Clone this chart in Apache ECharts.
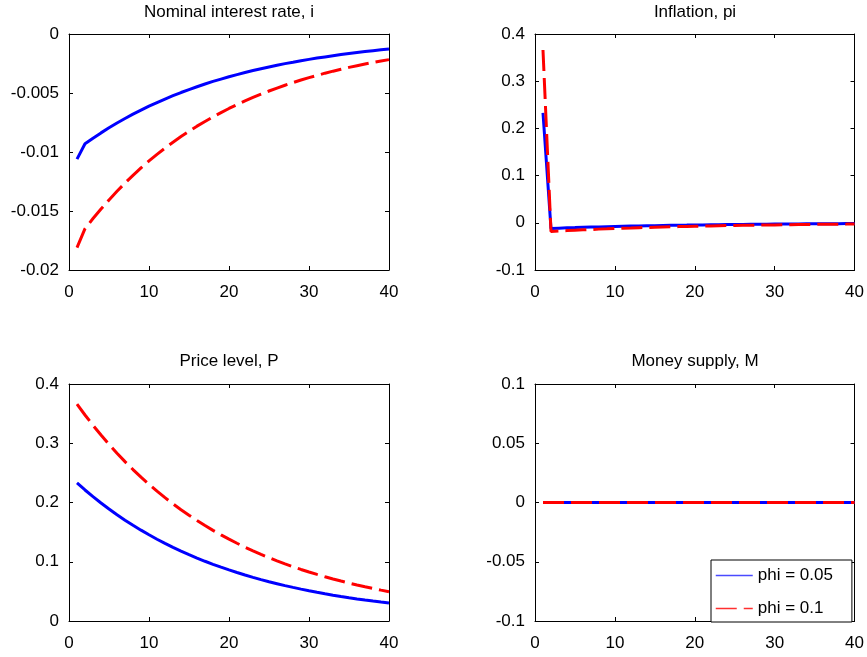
<!DOCTYPE html>
<html><head><meta charset="utf-8">
<script src="https://cdn.jsdelivr.net/npm/echarts@6/dist/echarts.min.js"></script>
<style>html,body{margin:0;padding:0;background:#fff}#c{width:867px;height:657px}</style>
</head><body><div id="c"></div>
<script>
const periods = [1,2,3,4,5,6,7,8,9,10,11,12,13,14,15,16,17,18,19,20,21,22,23,24,25,26,27,28,29,30,31,32,33,34,35,36,37,38,39,40];
const seriesNames = ['phi = 0.05', 'phi = 0.1'];
const seriesColors = ['#0000ff', '#ff0000'];
const legendColors = ['#4a4aff', '#ff3030'];
const panelTitles = ['Nominal interest rate, i', 'Inflation, pi', 'Price level, P', 'Money supply, M'];
const xTicks = [0, 10, 20, 30, 40];
const iTicks = [-0.02, -0.015, -0.01, -0.005, 0];
const piTicks = [-0.1, 0, 0.1, 0.2, 0.3, 0.4];
const pTicks = [0, 0.1, 0.2, 0.3, 0.4];
const mTicks = [-0.1, -0.05, 0, 0.05, 0.1];

// Nominal interest rate, i
const iLow = [-0.0106,-0.00930,-0.00883,-0.00838,-0.00795,-0.00754,-0.00716,-0.00679,-0.00645,-0.00612,-0.00581,-0.00551,-0.00523,-0.00496,-0.00471,-0.00447,-0.00424,-0.00402,-0.00382,-0.00362,-0.00344,-0.00326,-0.00310,-0.00294,-0.00279,-0.00265,-0.00251,-0.00239,-0.00226,-0.00215,-0.00204,-0.00194,-0.00184,-0.00174,-0.00165,-0.00157,-0.00149,-0.00141,-0.00134,-0.00127];
const iHigh = [-0.0181,-0.01650,-0.01564,-0.01483,-0.01406,-0.01333,-0.01263,-0.01198,-0.01135,-0.01076,-0.01020,-0.00967,-0.00917,-0.00869,-0.00824,-0.00781,-0.00741,-0.00702,-0.00666,-0.00631,-0.00598,-0.00567,-0.00538,-0.00510,-0.00483,-0.00458,-0.00434,-0.00412,-0.00390,-0.00370,-0.00351,-0.00332,-0.00315,-0.00299,-0.00283,-0.00269,-0.00255,-0.00241,-0.00229,-0.00217];
// Inflation, pi
const piLow = [0.233,-0.0119,-0.0113,-0.0107,-0.0102,-0.0096,-0.0091,-0.0087,-0.0082,-0.0078,-0.0074,-0.0070,-0.0067,-0.0063,-0.0060,-0.0057,-0.0054,-0.0051,-0.0049,-0.0046,-0.0044,-0.0042,-0.0040,-0.0038,-0.0036,-0.0034,-0.0032,-0.0031,-0.0029,-0.0027,-0.0026,-0.0025,-0.0023,-0.0022,-0.0021,-0.0020,-0.0019,-0.0018,-0.0017,-0.0016];
const piHigh = [0.366,-0.0183,-0.0174,-0.0165,-0.0157,-0.0149,-0.0142,-0.0134,-0.0128,-0.0121,-0.0115,-0.0110,-0.0104,-0.0099,-0.0094,-0.0089,-0.0085,-0.0081,-0.0077,-0.0073,-0.0069,-0.0066,-0.0062,-0.0059,-0.0056,-0.0053,-0.0051,-0.0048,-0.0046,-0.0044,-0.0041,-0.0039,-0.0037,-0.0036,-0.0034,-0.0032,-0.0030,-0.0029,-0.0028,-0.0026];
// Price level, P
const pLow = [0.2330,0.2211,0.2098,0.1991,0.1890,0.1793,0.1702,0.1615,0.1533,0.1455,0.1380,0.1310,0.1243,0.1180,0.1120,0.1063,0.1008,0.0957,0.0908,0.0862,0.0818,0.0776,0.0737,0.0699,0.0663,0.0630,0.0597,0.0567,0.0538,0.0511,0.0485,0.0460,0.0436,0.0414,0.0393,0.0373,0.0354,0.0336,0.0319,0.0303];
const pHigh = [0.3660,0.3477,0.3303,0.3138,0.2981,0.2832,0.2690,0.2556,0.2428,0.2307,0.2191,0.2082,0.1978,0.1879,0.1785,0.1696,0.1611,0.1530,0.1454,0.1381,0.1312,0.1246,0.1184,0.1125,0.1069,0.1015,0.0964,0.0916,0.0870,0.0827,0.0786,0.0746,0.0709,0.0674,0.0640,0.0608,0.0577,0.0549,0.0521,0.0495];
// Money supply, M
const mLow = [0,0,0,0,0,0,0,0,0,0,0,0,0,0,0,0,0,0,0,0,0,0,0,0,0,0,0,0,0,0,0,0,0,0,0,0,0,0,0,0];
const mHigh = [0,0,0,0,0,0,0,0,0,0,0,0,0,0,0,0,0,0,0,0,0,0,0,0,0,0,0,0,0,0,0,0,0,0,0,0,0,0,0,0];

const panels = [
  {title: panelTitles[0], ticks: iTicks, low: iLow, high: iHigh},
  {title: panelTitles[1], ticks: piTicks, low: piLow, high: piHigh},
  {title: panelTitles[2], ticks: pTicks, low: pLow, high: pHigh},
  {title: panelTitles[3], ticks: mTicks, low: mLow, high: mHigh}
];
const FONT = 'Liberation Sans, Arial, Helvetica, sans-serif';
const FS = 17;
const DASH = [21, 7];
const grids = [
  {left: 69, top: 34, width: 320, height: 236},
  {left: 535, top: 34, width: 320, height: 236},
  {left: 69, top: 384, width: 320, height: 237},
  {left: 535, top: 384, width: 320, height: 237}
];
const titleY = [12, 12, 361, 361];

const r6 = v => Math.round(v * 1e6) / 1e6;
const fmt = v => String(r6(v));
const axisLine = {show: true, onZero: false, lineStyle: {color: '#000', width: 1}};
const tick = {show: true, inside: true, length: 4, lineStyle: {color: '#000', width: 1}};
const lbl = {color: '#000', fontSize: FS, fontFamily: FONT, formatter: fmt};

const xAxis = [], yAxis = [], series = [], graphic = [];
panels.forEach((p, k) => {
  const step = r6(p.ticks[1] - p.ticks[0]);
  const xStep = xTicks[1] - xTicks[0];
  xAxis.push({gridIndex: k, type: 'value', position: 'bottom', min: xTicks[0], max: xTicks[xTicks.length-1], interval: xStep,
    axisLine, axisTick: tick, splitLine: {show: false}, axisLabel: Object.assign({margin: 14}, lbl)});
  xAxis.push({gridIndex: k, type: 'value', position: 'top', min: xTicks[0], max: xTicks[xTicks.length-1], interval: xStep,
    axisLine, axisTick: tick, splitLine: {show: false}, axisLabel: {show: false}});
  yAxis.push({gridIndex: k, type: 'value', position: 'left', min: p.ticks[0], max: p.ticks[p.ticks.length-1], interval: step,
    axisLine, axisTick: tick, splitLine: {show: false}, axisLabel: Object.assign({margin: 10}, lbl)});
  yAxis.push({gridIndex: k, type: 'value', position: 'right', min: p.ticks[0], max: p.ticks[p.ticks.length-1], interval: step,
    axisLine, axisTick: tick, splitLine: {show: false}, axisLabel: {show: false}});
  series.push({name: seriesNames[0], type: 'line', xAxisIndex: 2*k, yAxisIndex: 2*k, symbol: 'none', silent: true, animation: false,
    data: periods.map((t, j) => [t, p.low[j]]), lineStyle: {color: seriesColors[0], width: 3, type: 'solid'}, itemStyle: {color: seriesColors[0]}});
  series.push({name: seriesNames[1], type: 'line', xAxisIndex: 2*k, yAxisIndex: 2*k, symbol: 'none', silent: true, animation: false,
    data: periods.map((t, j) => [t, p.high[j]]), lineStyle: {color: seriesColors[1], width: 3, type: DASH}, itemStyle: {color: seriesColors[1]}});
  const g = grids[k];
  graphic.push({type: 'text', x: g.left + g.width / 2, y: titleY[k], silent: true,
    style: {text: p.title, textAlign: 'center', textVerticalAlign: 'middle', font: FS + 'px ' + FONT, fill: '#000'}});
});

const chart = echarts.init(document.getElementById('c'), null, {renderer: 'canvas'});
chart.setOption({
  animation: false,
  backgroundColor: '#fff',
  grid: grids,
  xAxis, yAxis, series, graphic,
  legend: {
    data: seriesNames.map((n, j) => ({
      name: n,
      lineStyle: {color: legendColors[j], width: 1.5, type: j === 0 ? 'solid' : DASH},
      itemStyle: {opacity: 0, color: 'rgba(0,0,0,0)', borderWidth: 0}
    })),
    orient: 'vertical', left: 711, top: 560,
    itemWidth: 37, itemHeight: 14, itemGap: 16, padding: [7, 19, 5, 4],
    backgroundColor: '#fff', borderColor: '#000', borderWidth: 1,
    selectedMode: false,
    textStyle: {color: '#000', fontSize: FS, fontFamily: FONT}
  }
});
</script></body></html>
